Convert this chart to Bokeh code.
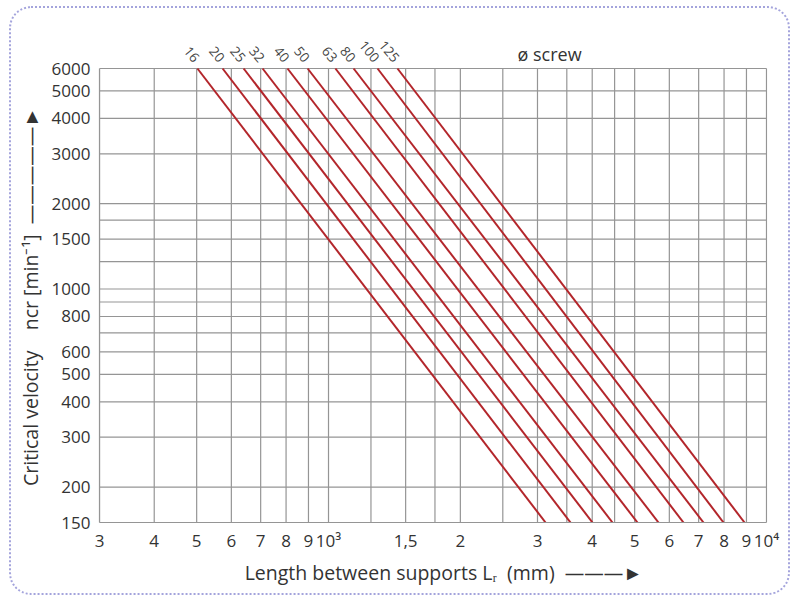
from bokeh.plotting import figure
from bokeh.models import FixedTicker
from bokeh.core.properties import value
from bokeh.embed import file_html
from bokeh.resources import INLINE

# ---- data ----
diameters = [16, 20, 25, 32, 40, 50, 63, 80, 100, 125]
length_at_6000 = [502, 573, 640, 707, 806, 896, 1037, 1141, 1294, 1437]
length_at_150 = [3130, 3569, 4006, 4450, 5075, 5668, 6463, 7180, 7977, 8909]
speed_top = 6000
speed_bottom = 150

x_ticks = [300, 400, 500, 600, 700, 800, 900, 1000, 1500, 2000,
           3000, 4000, 5000, 6000, 7000, 8000, 9000, 10000]
x_tick_labels = ["3", "4", "5", "6", "7", "8", "9", "10³", "1,5", "2",
                 "3", "4", "5", "6", "7", "8", "9", "10⁴"]
y_ticks = [150, 200, 300, 400, 500, 600, 800, 1000, 1500, 2000, 3000, 4000, 5000, 6000]
y_tick_labels = ["150", "200", "300", "400", "500", "600", "800", "1000",
                 "1500", "2000", "3000", "4000", "5000", "6000"]
x_grid = [300, 400, 500, 600, 700, 800, 900, 1000, 1250, 1500, 1750, 2000, 2500,
          3000, 3500, 4000, 4500, 5000, 6000, 7000, 8000, 9000, 10000]
y_grid = [150, 200, 300, 400, 500, 600, 700, 800, 900, 1000, 1250, 1500, 1750,
          2000, 3000, 4000, 5000, 6000]

NB = "\u00a0"
x_title = NB * 4 + "Length between supports Lᵣ" + NB * 2 + "(mm)" + NB * 2 + "———►"
y_title = ("Critical velocity" + NB * 4 + "ncr [min⁻¹]" + NB * 2 + "—————►" + NB * 8)
series_title = "ø screw"

# ---- layout (page pixels) ----
OX, OY = 11, 8                 # canvas origin on the page (margin + css border)
CW, CH = 781, 589              # canvas size
OL, OR, OT, OB = 99, 766, 68, 522   # chart box: x 300..10000, y 150..6000
TOP = 30                       # frame top (room for the diameter labels)
X0, X1, Y0, Y1 = 300, 10000, 150, 6000


def fx(ox):
    return X0 * (X1 / X0) ** ((ox - OL) / (OR - OL))


def fy(oy):
    return Y0 * (Y1 / Y0) ** ((OB - oy) / (OB - OT))


FONT = "Open Sans"
TXT = "#333333"
GRID = "#959595"

p = figure(width=CW, height=CH, x_axis_type="log", y_axis_type="log",
           x_range=(X0, fx(OR + 1)), y_range=(Y0, fy(TOP)),
           output_backend="svg", toolbar_location=None,
           min_border_left=OL - OX, min_border_right=CW - (OR + 1 - OX),
           min_border_top=TOP - OY, min_border_bottom=CH - (OB - OY))
p.styles = {"margin": "6px 0 0 9px", "border": "2px dotted #a4a4dc",
            "border-radius": "22px"}
p.border_fill_color = None
p.background_fill_color = None
p.outline_line_color = None
p.grid.visible = False

# grid drawn inside the chart box only
p.segment(x0=x_grid, x1=x_grid, y0=[Y0] * len(x_grid), y1=[Y1] * len(x_grid),
          line_color=GRID, line_width=1.2)
p.segment(x0=[X0] * len(y_grid), x1=[X1] * len(y_grid), y0=y_grid, y1=y_grid,
          line_color=GRID, line_width=1.2)

p.xaxis.ticker = FixedTicker(ticks=x_ticks)
p.xaxis.major_label_overrides = {t: l for t, l in zip(x_ticks, x_tick_labels)}
p.xaxis.bounds = (X0, X1)
p.yaxis.ticker = FixedTicker(ticks=y_ticks)
p.yaxis.major_label_overrides = {t: l for t, l in zip(y_ticks, y_tick_labels)}
p.yaxis.bounds = (Y0, Y1)
for ax in (p.xaxis, p.yaxis):
    ax.major_tick_line_color = None
    ax.minor_tick_line_color = None
    ax.axis_line_color = GRID
    ax.axis_line_width = 1.2
    ax.major_label_text_font = FONT
    ax.major_label_text_font_size = "17px"
    ax.major_label_text_color = TXT
    ax.axis_label_text_font = FONT
    ax.axis_label_text_font_size = "19.5px"
    ax.axis_label_text_font_style = "normal"
    ax.axis_label_text_color = TXT
p.xaxis.major_label_standoff = 0
p.yaxis.major_label_standoff = 3
p.xaxis.axis_label = x_title
p.xaxis.axis_label_standoff = 4
p.yaxis.axis_label = y_title
p.yaxis.axis_label_standoff = 5

# ---- red lines ----
p.multi_line(xs=[[a, b] for a, b in zip(length_at_6000, length_at_150)],
             ys=[[speed_top, speed_bottom] for _ in diameters],
             line_color="#b3262b", line_width=2)

# diameter labels
p.text(x=length_at_6000, y=[speed_top] * len(diameters), text=[str(d) for d in diameters],
       angle=-0.87, text_align="right", text_baseline="middle",
       x_offset=-1, y_offset=-8, text_font=value(FONT),
       text_font_size="13.5px", text_color="#444444")

p.text(x=[fx(517)], y=[speed_top], text=[series_title], text_align="left",
       text_baseline="middle", y_offset=-(OT - 53), text_font=value(FONT),
       text_font_size="18px", text_color=TXT)

open("out.html", "w").write(file_html(p, INLINE))
